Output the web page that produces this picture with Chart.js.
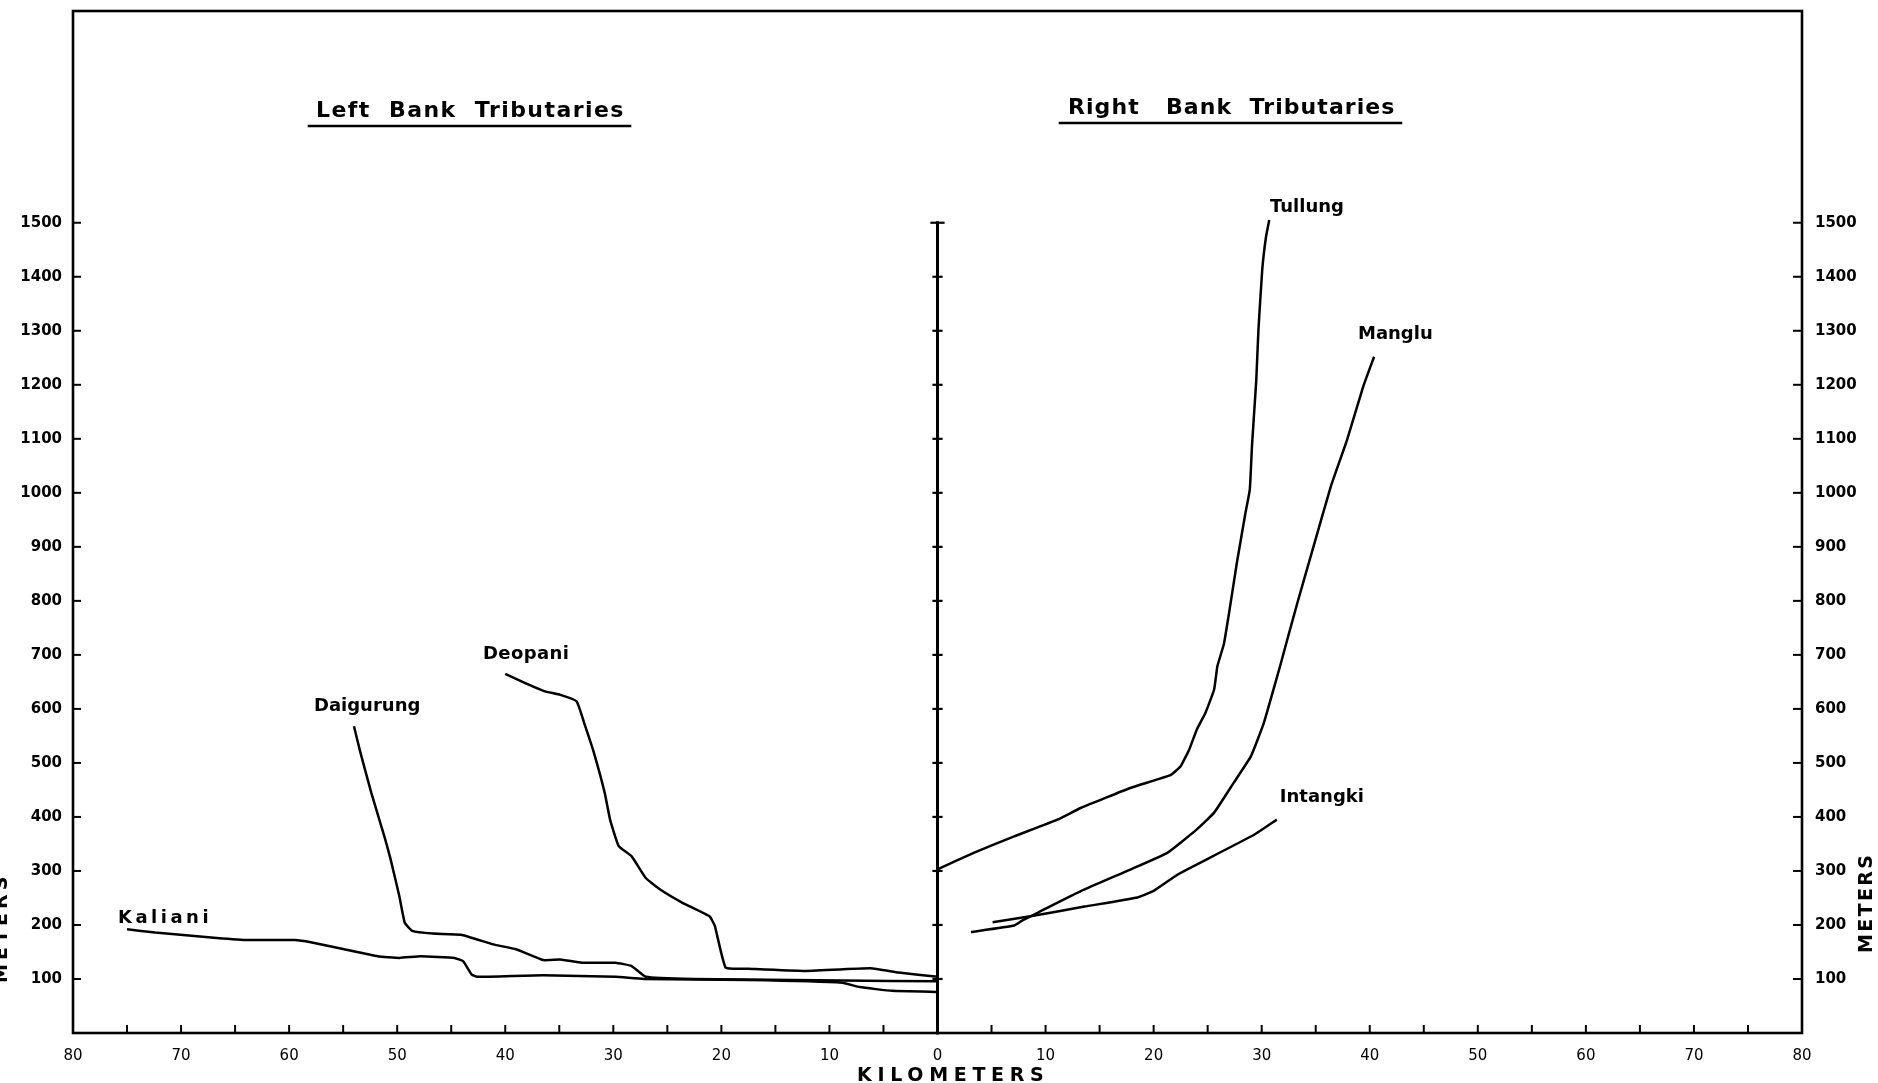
<!DOCTYPE html>
<html><head><meta charset="utf-8">
<script src="https://cdn.jsdelivr.net/npm/chart.js@4.4.0/dist/chart.umd.min.js"></script>
<style>html,body{margin:0;padding:0;background:#fff;overflow:hidden}#wrap{width:1878px;height:1083px;position:relative}</style>
</head><body><div id="wrap"><canvas id="c"></canvas></div>
<script>
// ---- tick values / labels ----
const xTickValues = [-80,-70,-60,-50,-40,-30,-20,-10,0,10,20,30,40,50,60,70,80];
const xTickLabels = ['80','70','60','50','40','30','20','10','0','10','20','30','40','50','60','70','80'];
const xMinorTicks = [-75,-65,-55,-45,-35,-25,-15,-5,5,15,25,35,45,55,65,75];
const yTickValues = [100,200,300,400,500,600,700,800,900,1000,1100,1200,1300,1400,1500];
const yTickLabels = ['100','200','300','400','500','600','700','800','900','1000','1100','1200','1300','1400','1500'];

// ---- Left bank tributaries (distance in km from confluence, elevation in m) ----
const kalianiKm = [75.0,72.4,66.7,63.7,59.5,58.0,54.9,51.8,49.8,47.8,44.7,43.9,43.1,42.6,36.5,29.8,27.2,17.5,8.8,7.2,4.2,0];
const kalianiM  = [192,186,176,172,172,168,155,142,139,142,139,133,108,104,107,104,100,98,93,85,78,76];

const daigurungKm = [54.0,53.4,52.4,51.1,50.6,49.8,49.3,48.6,46.7,44.1,41.1,39.0,36.5,34.9,32.9,29.8,28.3,27.0,22.6,8.8,0];
const daigurungM  = [568,519,445,358,321,253,204,189,184,182,164,155,135,136,130,130,124,104,100,97,96];

const deopaniKm = [40.0,38.2,36.4,34.9,33.4,32.6,31.8,30.8,30.3,29.5,28.3,27.0,25.7,23.6,21.1,20.6,19.6,17.5,12.4,6.2,3.6,0];
const deopaniM  = [665,648,633,626,614,568,519,445,395,346,327,287,266,241,216,198,121,119,115,120,112,104];

// ---- Right bank tributaries ----
const tullungKm = [0,3.4,7.1,11.1,13.3,17.9,21.6,22.5,23.3,24.0,24.8,25.6,25.9,26.5,27.0,27.7,28.5,28.9,29.1,29.3,29.5,29.7,30.05,30.4,30.7];
const tullungM  = [303,334,364,395,417,454,478,494,525,562,593,636,679,720,780,870,963,1006,1086,1148,1209,1302,1413,1474,1505];

const mangluKm = [3.1,7.1,7.9,9.6,13.3,17.9,21.3,24.0,25.6,27.4,29.0,30.2,31.7,32.2,33.3,34.8,36.4,37.9,39.4,40.4];
const mangluM  = [187,199,209,226,263,303,334,377,408,463,512,574,679,716,796,901,1012,1098,1197,1252];

const intangkiKm = [5.1,8.6,13.6,18.5,20.0,22.2,23.7,29.3,31.4];
const intangkiM  = [205,216,234,251,263,293,309,367,395];

const leftNames  = ['Kaliani','Daigurung','Deopani'];
const rightNames = ['Tullung','Manglu','Intangki'];

// label anchors (km on signed axis, metres) and fitted text widths
const labelCfg = [
  {t:'Kaliani',  x:-75.84, y:204,  w:92},
  {t:'Daigurung',x:-57.70, y:596,  w:104},
  {t:'Deopani',  x:-42.06, y:692,  w:86},
  {t:'Tullung',  x:30.77,  y:1520, w:72},
  {t:'Manglu',   x:38.91,  y:1285, w:73},
  {t:'Intangki', x:31.68,  y:428,  w:83}
];

function pts(km, m, sign){ return km.map((k,i)=>({x:sign*k, y:m[i]})); }
const lineStyle = {borderColor:'#000', borderWidth:2.5, pointRadius:0, showLine:true, fill:false, tension:0.12};
const datasets = [
  Object.assign({label:leftNames[0], data:pts(kalianiKm,kalianiM,-1)}, lineStyle),
  Object.assign({label:leftNames[1], data:pts(daigurungKm,daigurungM,-1)}, lineStyle),
  Object.assign({label:leftNames[2], data:pts(deopaniKm,deopaniM,-1)}, lineStyle),
  Object.assign({label:rightNames[0], data:pts(tullungKm,tullungM,1)}, lineStyle),
  Object.assign({label:rightNames[1], data:pts(mangluKm,mangluM,1)}, lineStyle),
  Object.assign({label:rightNames[2], data:pts(intangkiKm,intangkiM,1)}, lineStyle)
];

function fitText(ctx, text, x, y, w){
  ctx.letterSpacing = '0px';
  const m = ctx.measureText(text).width;
  const ls = Math.max(0,(w - m) / Math.max(1,text.length-0.6));
  ctx.letterSpacing = ls.toFixed(2)+'px';
  ctx.fillText(text, x, y);
  ctx.letterSpacing = '0px';
}

const decor = {
  id:'decor',
  afterDraw(chart){
    const ctx = chart.ctx, a = chart.chartArea;
    const xs = chart.scales.x, ys = chart.scales.y;
    ctx.save();
    ctx.strokeStyle = '#000'; ctx.fillStyle = '#000';
    ctx.lineCap = 'square';
    // frame
    ctx.lineWidth = 2.6;
    ctx.strokeRect(a.left, a.top, a.right - a.left, a.bottom - a.top);
    // y ticks (inside) on left and right
    ctx.lineWidth = 2;
    yTickValues.forEach(v=>{
      const py = ys.getPixelForValue(v);
      ctx.beginPath(); ctx.moveTo(a.left, py); ctx.lineTo(a.left+7, py); ctx.stroke();
      ctx.beginPath(); ctx.moveTo(a.right-8, py); ctx.lineTo(a.right, py); ctx.stroke();
    });
    // x ticks (inside) every 5 km
    xTickValues.concat(xMinorTicks).forEach(v=>{
      const px = xs.getPixelForValue(v);
      ctx.beginPath(); ctx.moveTo(px, a.bottom); ctx.lineTo(px, a.bottom-7); ctx.stroke();
    });
    // centre axis
    const x0 = xs.getPixelForValue(0);
    ctx.lineWidth = 3;
    ctx.beginPath(); ctx.moveTo(x0, a.bottom); ctx.lineTo(x0, ys.getPixelForValue(1500)); ctx.stroke();
    ctx.lineWidth = 2.2;
    yTickValues.forEach(v=>{
      const py = ys.getPixelForValue(v);
      const hw = v === 1500 ? 6 : 4;
      ctx.beginPath(); ctx.moveTo(x0-hw, py); ctx.lineTo(x0+hw, py); ctx.stroke();
    });
    // section titles
    ctx.textBaseline = 'alphabetic'; ctx.textAlign = 'left';
    ctx.font = 'bold 22px "DejaVu Sans"';
    fitText(ctx, 'Left  Bank  Tributaries', 316, 117, 308);
    fitText(ctx, 'Right   Bank  Tributaries', 1068, 114, 327);
    ctx.lineWidth = 2.6;
    ctx.beginPath(); ctx.moveTo(309,126); ctx.lineTo(630,126); ctx.stroke();
    ctx.beginPath(); ctx.moveTo(1060,123); ctx.lineTo(1401,123); ctx.stroke();
    // curve labels
    ctx.font = 'bold 18px "DejaVu Sans"';
    labelCfg.forEach(l=>{
      fitText(ctx, l.t, xs.getPixelForValue(l.x), ys.getPixelForValue(l.y), l.w);
    });
    // axis titles
    ctx.font = 'bold 19px "DejaVu Sans"';
    fitText(ctx, 'KILOMETERS', 857, 1081, 189);
    ctx.save(); ctx.translate(1872, 953); ctx.rotate(-Math.PI/2);
    fitText(ctx, 'METERS', 0, 0, 99); ctx.restore();
    ctx.save(); ctx.translate(7, 983); ctx.rotate(-Math.PI/2);
    fitText(ctx, 'METERS', 0, 0, 108); ctx.restore();
    ctx.restore();
  }
};

function zeroPad(s){ s.paddingTop = 0; s.paddingBottom = 0; s.paddingLeft = 0; s.paddingRight = 0; }
const yCommon = {
  type:'linear', min:0, max:1892,
  afterBuildTicks: s => { s.ticks = yTickValues.map(v=>({value:v})); },
  grid:{display:false, drawTicks:false}, border:{display:false},
};

new Chart(document.getElementById('c'), {
  type:'scatter',
  data:{datasets},
  options:{
    responsive:true, maintainAspectRatio:false, animation:false,
    layout:{padding:{top:11,left:0,right:0,bottom:0}},
    plugins:{legend:{display:false}, tooltip:{enabled:false}, title:{display:false}},
    scales:{
      x:{type:'linear', min:-80, max:80, position:'bottom',
        afterBuildTicks: s => { s.ticks = xTickValues.map(v=>({value:v})); },
        afterFit: s => { s.height = 50; zeroPad(s); },
        grid:{display:false, drawTicks:false}, border:{display:false},
        ticks:{autoSkip:false, maxRotation:0, padding:14, color:'#000',
          font:{family:'DejaVu Sans', size:15},
          callback:(v,i)=>xTickLabels[i]}
      },
      y:Object.assign({}, yCommon, {position:'left',
        afterFit: s => { s.width = 73; zeroPad(s); },
        ticks:{autoSkip:false, padding:11, color:'#000', font:{family:'DejaVu Sans', size:15, weight:'bold'},
          callback:(v,i)=>yTickLabels[i]}}),
      y2:Object.assign({}, yCommon, {position:'right',
        afterFit: s => { s.width = 76; zeroPad(s); },
        ticks:{autoSkip:false, padding:13, color:'#000', font:{family:'DejaVu Sans', size:15, weight:'bold'},
          callback:(v,i)=>yTickLabels[i]}})
    }
  },
  plugins:[decor]
});
</script></body></html>
